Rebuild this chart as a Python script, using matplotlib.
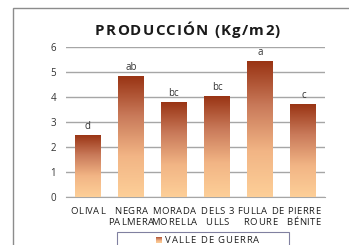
import matplotlib.pyplot as plt
import numpy as np
from matplotlib.colors import LinearSegmentedColormap
from matplotlib.patches import Rectangle

categories = ['OLIVAL', 'NEGRA\nPALMERA', 'MORADA\nMORELLA', 'DELS 3\nULLS', 'FULLA DE\nROURE', 'PIERRE\nBÉNITE']
values = [2.48, 4.84, 3.80, 4.04, 5.44, 3.72]
letters = ['d', 'ab', 'bc', 'bc', 'a', 'c']
series_name = 'VALLE DE GUERRA'
title = 'PRODUCCIÓN (Kg/m2)'

plt.rcParams['font.family'] = ['Open Sans', 'DejaVu Sans']

W, H = 349, 245
fig = plt.figure(figsize=(W / 100, H / 100), dpi=100)
ax = fig.add_axes([66 / W, 1 - 197 / H, (325 - 66) / W, (197 - 47) / H])
r = fig.canvas.get_renderer()


def char_widths(s, size, weight):
    t = fig.text(0, 0, 'xx', fontsize=size, fontweight=weight)
    w0 = t.get_window_extent(r).width
    out = []
    for ch in s:
        t.set_text('x' + ch + 'x')
        out.append(t.get_window_extent(r).width - w0)
    t.remove()
    return out


def tracked(s, cx, base, size, track=0.0, width=None, weight='normal', color='#222222', align='center'):
    # draw text char by char with extra letter spacing, positions in pixels from top-left
    ws = char_widths(s, size, weight)
    if width is not None:
        track = (width - sum(ws)) / (len(s) - 1)
    total = sum(ws) + track * (len(s) - 1)
    x = cx - total / 2 if align == 'center' else cx
    for ch, w in zip(s, ws):
        fig.text(x / W, 1 - base / H, ch, ha='left', va='baseline', fontsize=size,
                 fontweight=weight, color=color)
        x += w + track


# outer chart frame (runs off the right/bottom edge)
fig.patches.append(Rectangle((13 / W, -0.1), 1.2, 1 - 8 / H + 0.1, transform=fig.transFigure,
                             fill=False, edgecolor='#8c8c8c', lw=1))

cmap = LinearSegmentedColormap.from_list('rust', ['#fdcf98', '#f2b585', '#c97a5a', '#983212'])
grad = np.linspace(0, 1, 256).reshape(-1, 1)

x = np.arange(len(categories))
bw = 0.6
bars = ax.bar(x, values, width=bw, color='none', zorder=3)
for b, v, lab in zip(bars, values, letters):
    im = ax.imshow(grad, cmap=cmap, aspect='auto', origin='lower',
                   extent=[b.get_x(), b.get_x() + bw, 0, v], zorder=3)
    im.set_clip_path(b)
    ax.text(b.get_x() + bw / 2, v + 0.12, lab, ha='center', va='bottom', fontsize=7, color='#333333')

ax.set_xlim(-0.5, len(categories) - 0.5)
ax.set_ylim(0, 6)
ax.set_yticks(range(0, 7))
ax.yaxis.grid(True, color='#a6a6a6', lw=1)
ax.set_axisbelow(True)
for s in ['top', 'right', 'left']:
    ax.spines[s].set_visible(False)
ax.spines['bottom'].set_color('#a6a6a6')
ax.tick_params(axis='both', length=0, labelsize=7, colors='#333333')
ax.tick_params(axis='y', pad=7)
ax.set_xticks(x)
ax.set_xticklabels([])

# category labels, letter-spaced
for i, cat in enumerate(categories):
    px = ax.transData.transform((i, 0))[0]
    for j, line in enumerate(cat.split('\n')):
        tracked(line, px, 214 + 11 * j, 6.8, track=0.6, color='#1e1e1e')

tracked(title, 187.5, 35, 10.8, width=185, weight='bold', color='#1a1a1a')

# legend box
fig.patches.append(Rectangle((117 / W, -0.1), (289 - 117) / W, 0.1 + 1 - 232 / H, transform=fig.transFigure,
                             fill=False, edgecolor='#8080a0', lw=0.8))
lg = fig.add_axes([156 / W, 1 - 243 / H, 6 / W, 6 / H])
lg.imshow(grad, cmap=cmap, aspect='auto', origin='lower')
lg.axis('off')
tracked(series_name, 165, 242.5, 6.8, width=94, align='left', color='#1e1e1e')

fig.savefig('out.png', dpi=100)
